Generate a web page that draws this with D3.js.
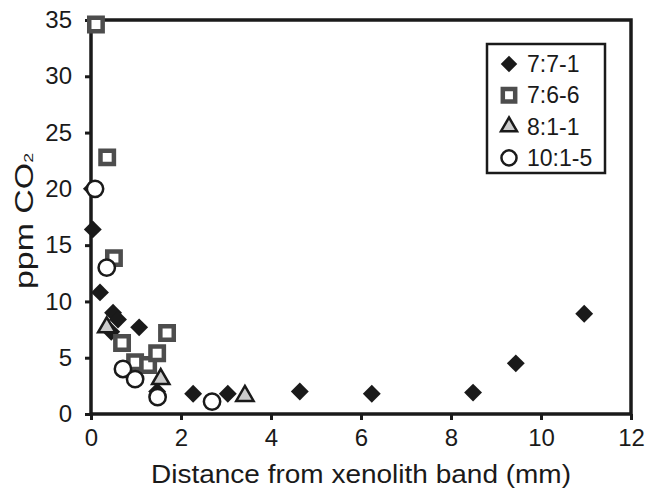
<!DOCTYPE html>
<html>
<head>
<meta charset="utf-8">
<script src="https://cdn.jsdelivr.net/npm/d3@7"></script>
<style>
body { margin: 0; background: #fff; }
text { font-family: "Liberation Sans", Arial, sans-serif; fill: #1a1a1a; }
</style>
</head>
<body>
<div id="chart"></div>
<script>
// values
var s771 = [[0.02, 20.0], [0.04, 16.4], [0.2, 10.8], [0.49, 9.0], [0.6, 8.4], [0.45, 7.3],
            [1.07, 7.7], [1.47, 2.0], [2.27, 1.8], [3.04, 1.8], [4.64, 2.0], [6.24, 1.8],
            [8.49, 1.9], [9.44, 4.5], [10.96, 8.9]];
var s766 = [[0.11, 34.6], [0.36, 22.8], [0.51, 13.85], [0.69, 6.3], [0.98, 4.6],
            [1.27, 4.35], [1.47, 5.4], [1.69, 7.2]];
var s811 = [[0.35, 7.7], [1.55, 3.1], [3.42, 1.6]];
var s1015 = [[0.09, 20.0], [0.35, 13.0], [0.71, 4.0], [0.98, 3.1], [1.48, 1.5], [2.69, 1.1]];

var seriesNames = ['7:7-1', '7:6-6', '8:1-1', '10:1-5'];
var xTicks = [0, 2, 4, 6, 8, 10, 12];
var yTicks = [0, 5, 10, 15, 20, 25, 30, 35];

dim = {
    'width': 646,
    'height': 492,
    'left': 91,
    'right': 631,
    'top': 20,
    'bottom': 414
};

var svg = d3.select('#chart').append('svg')
    .attr('width', dim.width)
    .attr('height', dim.height);

var xScale = d3.scaleLinear().domain([0, 12]).range([dim.left, dim.right]);
var yScale = d3.scaleLinear().domain([0, 35]).range([dim.bottom, dim.top]);

// marker styles per series
var styles = [
    {data: s771, shape: d3.symbolSquare, size: 160, rotate: 45, fill: '#1a1a1a', stroke: 'none', sw: 0},
    {data: s766, shape: d3.symbolSquare, size: 180, rotate: 0, fill: '#fff', stroke: '#4d4d4d', sw: 4.5},
    {data: s811, shape: d3.symbolTriangle, size: 130, rotate: 0, fill: '#cccccc', stroke: '#1a1a1a', sw: 2.5},
    {data: s1015, shape: d3.symbolCircle, size: 210, rotate: 0, fill: '#fff', stroke: '#1a1a1a', sw: 2.5}
];

// axes
var xAxis = d3.axisBottom(xScale).tickValues(xTicks).tickSize(6).tickPadding(6);
var yAxis = d3.axisLeft(yScale).tickValues(yTicks).tickSize(6).tickPadding(13);

var gx = svg.append('g').attr('transform', `translate(0,${dim.bottom})`).call(xAxis);
var gy = svg.append('g').attr('transform', `translate(${dim.left},0)`).call(yAxis);

[gx, gy].forEach(function(g) {
    g.select('.domain').remove();
    g.selectAll('line').attr('stroke', '#1a1a1a').attr('stroke-width', 3);
    g.selectAll('text').style('font-size', '24px').attr('fill', '#1a1a1a');
});
gx.selectAll('text').attr('dy', '0.85em');

// frame round the plot area
svg.append('rect')
    .attr('x', dim.left)
    .attr('y', dim.top)
    .attr('width', dim.right - dim.left)
    .attr('height', dim.bottom - dim.top)
    .attr('fill', 'none')
    .attr('stroke', '#1a1a1a')
    .attr('stroke-width', 3.5);

// points
styles.forEach(function(st) {
    svg.append('g').selectAll('path')
        .data(st.data)
        .enter().append('path')
        .attr('d', d3.symbol().type(st.shape).size(st.size))
        .attr('transform', d => `translate(${xScale(d[0])},${yScale(d[1])}) rotate(${st.rotate})`)
        .attr('fill', st.fill)
        .attr('stroke', st.stroke)
        .attr('stroke-width', st.sw);
});

// axis titles
svg.append('text')
    .attr('x', 361)
    .attr('y', 483)
    .attr('text-anchor', 'middle')
    .attr('textLength', 420)
    .attr('lengthAdjust', 'spacingAndGlyphs')
    .style('font-size', '25px')
    .text('Distance from xenolith band (mm)');

var yTitle = svg.append('text')
    .attr('transform', 'translate(33,221) rotate(-90)')
    .attr('text-anchor', 'middle')
    .attr('textLength', 136)
    .attr('lengthAdjust', 'spacingAndGlyphs')
    .style('font-size', '25px');
yTitle.append('tspan').text('ppm CO');
yTitle.append('tspan').style('font-size', '13px').text('2');

// legend
var legend = svg.append('g');
legend.append('rect')
    .attr('x', 487).attr('y', 44)
    .attr('width', 118).attr('height', 129)
    .attr('fill', '#fff')
    .attr('stroke', '#1a1a1a')
    .attr('stroke-width', 2.5);

var legendRows = legend.selectAll('g.row')
    .data(seriesNames)
    .enter().append('g')
    .attr('class', 'row')
    .attr('transform', (d, i) => `translate(509,${64 + i * 31.3})`);

legendRows.append('path')
    .attr('d', (d, i) => d3.symbol().type(styles[i].shape).size(styles[i].size * 0.85)())
    .attr('transform', (d, i) => `rotate(${styles[i].rotate})`)
    .attr('fill', (d, i) => styles[i].fill)
    .attr('stroke', (d, i) => styles[i].stroke)
    .attr('stroke-width', (d, i) => styles[i].sw);

legendRows.append('text')
    .attr('x', 18)
    .attr('dy', '0.35em')
    .style('font-size', '23px')
    .text(d => d);
</script>
</body>
</html>
